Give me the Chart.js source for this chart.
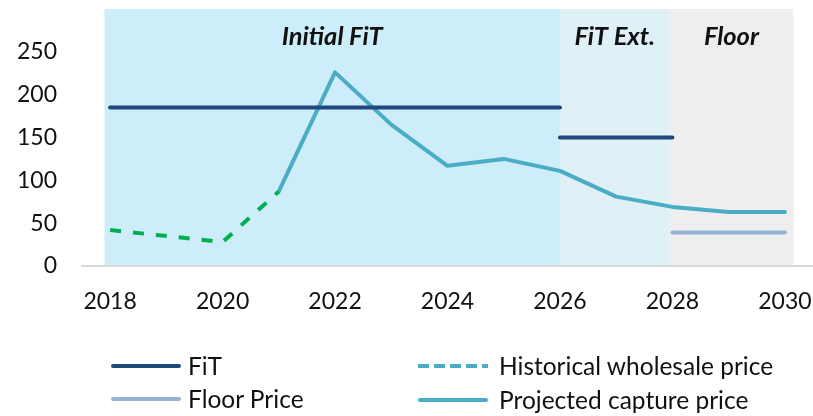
<!DOCTYPE html>
<html>
<head>
<meta charset="utf-8">
<script src="https://cdn.jsdelivr.net/npm/chart.js@4.4.0/dist/chart.umd.min.js"></script>
<style>
  html, body { margin: 0; padding: 0; background: #fff; }
  #wrap { position: relative; width: 813px; height: 416px; }
  .leg { position: absolute; font-family: Lato, sans-serif; font-size: 24.5px; color: #111; white-space: nowrap; }
  .leg .swatch { position: absolute; left: 0; top: 50%; width: 70px; height: 4px; margin-top: -2px; border-radius: 2px; }
  .leg .txt { position: absolute; left: 77px; top: 50%; transform: translateY(-53%); }
</style>
</head>
<body>
<div id="wrap">
  <canvas id="chart" width="813" height="416"></canvas>
  <div class="leg" style="left:111px; top:366px;"><div class="swatch" style="background:#1f497d"></div><span class="txt">FiT</span></div>
  <div class="leg" style="left:111px; top:399px;"><div class="swatch" style="background:#95b3d7"></div><span class="txt">Floor Price</span></div>
  <div class="leg" style="left:418px; top:366px;"><div class="swatch" style="background:repeating-linear-gradient(90deg,#4bacc6 0 11px,transparent 11px 16px);border-radius:0"></div><span class="txt" style="left:81px">Historical wholesale price</span></div>
  <div class="leg" style="left:418px; top:400px;"><div class="swatch" style="background:#4bacc6"></div><span class="txt" style="left:81px">Projected capture price</span></div>
</div>
<script>
// values
const xTickYears = [2018, 2020, 2022, 2024, 2026, 2028, 2030];
const yTickValues = [0, 50, 100, 150, 200, 250];

const histYears = [2018, 2020, 2021];
const histPrice = [42, 28, 87];

const captureYears = [2021, 2022, 2023, 2024, 2025, 2026, 2027, 2028, 2029, 2030];
const capturePrice = [87, 226, 165, 117, 125, 111, 81, 69, 63, 63];

const fitYears = [2018, 2026];
const fitPrice = [185, 185];
const fitExtYears = [2026, 2028];
const fitExtPrice = [150, 150];
const floorYears = [2028, 2030];
const floorPrice = [39, 39];

// support periods shaded behind the lines
const periodNames = ['Initial FiT', 'FiT Ext.', 'Floor'];
const periodStart = [2017.9, 2026, 2027.95];
const periodEnd = [2026, 2027.95, 2030.15];
const periodColours = ['#ccedf9', '#dff0f6', '#eeeeee'];

const FONT = 'Lato, sans-serif';

function points(xs, ys) {
  return xs.map((x, i) => ({ x: x, y: ys[i] }));
}

const periodShading = {
  id: 'periodShading',
  beforeDraw(chart) {
    const ctx = chart.ctx;
    const x = chart.scales.x;
    const area = chart.chartArea;
    ctx.save();
    periodNames.forEach((name, i) => {
      const x0 = x.getPixelForValue(periodStart[i]);
      const x1 = x.getPixelForValue(periodEnd[i]);
      ctx.fillStyle = periodColours[i];
      ctx.fillRect(x0, area.top, x1 - x0, area.bottom - area.top);
      ctx.fillStyle = '#111';
      ctx.font = 'italic bold 25.5px ' + FONT;
      ctx.textAlign = 'center';
      ctx.textBaseline = 'middle';
      ctx.fillText(name, (x0 + x1) / 2, area.top + 28);
    });
    ctx.restore();
  }
};

function lineSet(label, data, colour, extra) {
  return Object.assign({
    label: label,
    data: data,
    borderColor: colour,
    backgroundColor: colour,
    borderWidth: 4,
    pointRadius: 0,
    tension: 0,
    borderCapStyle: 'round',
    borderJoinStyle: 'round',
    fill: false
  }, extra || {});
}

new Chart(document.getElementById('chart'), {
  type: 'line',
  data: {
    datasets: [
      lineSet('FiT', points(fitYears, fitPrice), '#1f497d'),
      lineSet('FiT ext', points(fitExtYears, fitExtPrice), '#1f497d'),
      lineSet('Floor Price', points(floorYears, floorPrice), '#95b3d7'),
      lineSet('Historical wholesale price', points(histYears, histPrice), '#00b050',
        { borderDash: [11, 12], borderCapStyle: 'butt' }),
      lineSet('Projected capture price', points(captureYears, capturePrice), '#4bacc6')
    ]
  },
  options: {
    responsive: false,
    animation: false,
    layout: { padding: { top: 9, right: 0, bottom: 90, left: 0 } },
    plugins: { legend: { display: false }, tooltip: { enabled: false } },
    scales: {
      x: {
        type: 'linear',
        min: 2017.5,
        max: 2030.5,
        afterBuildTicks: s => { s.ticks = xTickYears.map(v => ({ value: v })); },
        afterFit: s => { s.height = 60; s.paddingLeft = 0; s.paddingRight = 0; },
        grid: { display: false, drawTicks: false },
        border: { display: true, color: '#d9d9d9', width: 2 },
        ticks: { padding: 22, color: '#111', font: { family: FONT, size: 23 }, maxRotation: 0,
          callback: v => String(v) }
      },
      y: {
        min: 0,
        max: 300,
        afterBuildTicks: s => { s.ticks = yTickValues.map(v => ({ value: v })); },
        afterFit: s => { s.width = 82; s.paddingTop = 0; s.paddingBottom = 0; },
        grid: { display: false, drawTicks: false },
        border: { display: false },
        ticks: { padding: 25, color: '#111', font: { family: FONT, size: 23 } }
      }
    }
  },
  plugins: [periodShading]
});
</script>
</body>
</html>
